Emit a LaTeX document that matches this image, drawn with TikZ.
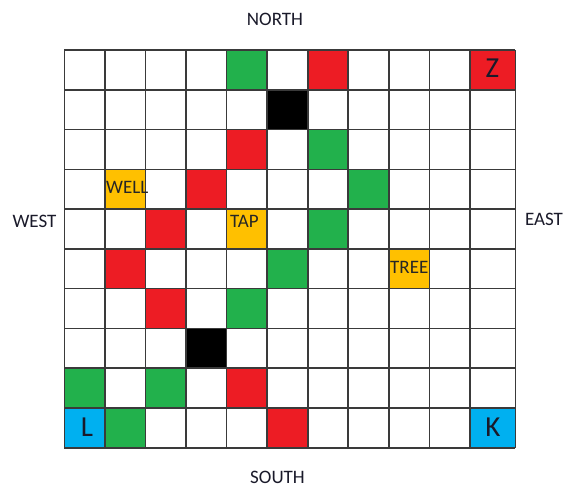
\documentclass[tikz,border=0pt]{standalone}
\usepackage{fontspec}
\setmainfont{Carlito}
\definecolor{cgreen}{HTML}{22B14C}
\definecolor{cred}{HTML}{ED1C24}
\definecolor{cyellow}{HTML}{FFC000}
\definecolor{cblue}{HTML}{00B0F0}
\definecolor{cgrid}{HTML}{3A3A3A}
\definecolor{ctext}{HTML}{1A1A2A}
\begin{document}
\begin{tikzpicture}[x=1pt,y=-1pt,
  declare function={xg(\i)=(\i<10.5)*(64.3+40.57*\i)+(\i>10.5)*515.3; yg(\j)=50+39.77*\j;},
  gridline/.style={cgrid,line width=1.6pt},
  dirlabel/.style={inner sep=0pt,anchor=base,text=ctext,font=\fontsize{19}{21}\selectfont},
  celllabel/.style={inner sep=0pt,anchor=base west,text=black!85,font=\fontsize{19}{21}\selectfont},
  biglabel/.style={inner sep=0pt,anchor=base,text=ctext,font=\fontsize{29}{31}\selectfont}]
\useasboundingbox[fill=white] (0,0) rectangle (565,488);
% coloured cells: column, row, colour
\foreach \c/\r/\col in {4/0/cgreen,6/0/cred,10/0/cred,
  5/1/black,
  4/2/cred,6/2/cgreen,
  1/3/cyellow,3/3/cred,7/3/cgreen,
  2/4/cred,4/4/cyellow,6/4/cgreen,
  1/5/cred,5/5/cgreen,8/5/cyellow,
  2/6/cred,4/6/cgreen,
  3/7/black,
  0/8/cgreen,2/8/cgreen,4/8/cred,
  0/9/cblue,1/9/cgreen,5/9/cred,10/9/cblue}{
  \fill[\col] ({xg(\c)},{yg(\r)}) rectangle ({xg(\c+1)},{yg(\r+1)});
}
% grid
\foreach \i in {0,...,11}{
  \draw[gridline] ({xg(\i)},{yg(0)}) -- ({xg(\i)},{yg(10)});
}
\foreach \j in {0,...,10}{
  \draw[gridline] ({xg(0)},{yg(\j)}) -- ({xg(11)},{yg(\j)});
}
% labels
\node[dirlabel] (north) at (275,25) {NORTH};
\node[dirlabel] (west) at (34.5,227.7) {WEST};
\node[dirlabel] (east) at (544,225.7) {EAST};
\node[dirlabel] (south) at (277.5,483.3) {SOUTH};
\node[celllabel] (well) at (106,193.3) {WELL};
\node[celllabel] (tap) at (230,227.3) {TAP};
\node[celllabel] (tree) at (390,273.3) {TREE};
\node[biglabel] (z) at (492.5,77.3) {Z};
\node[biglabel] (k) at (493,436) {K};
\node[biglabel] (l) at (87,436) {L};
\end{tikzpicture}
\end{document}
